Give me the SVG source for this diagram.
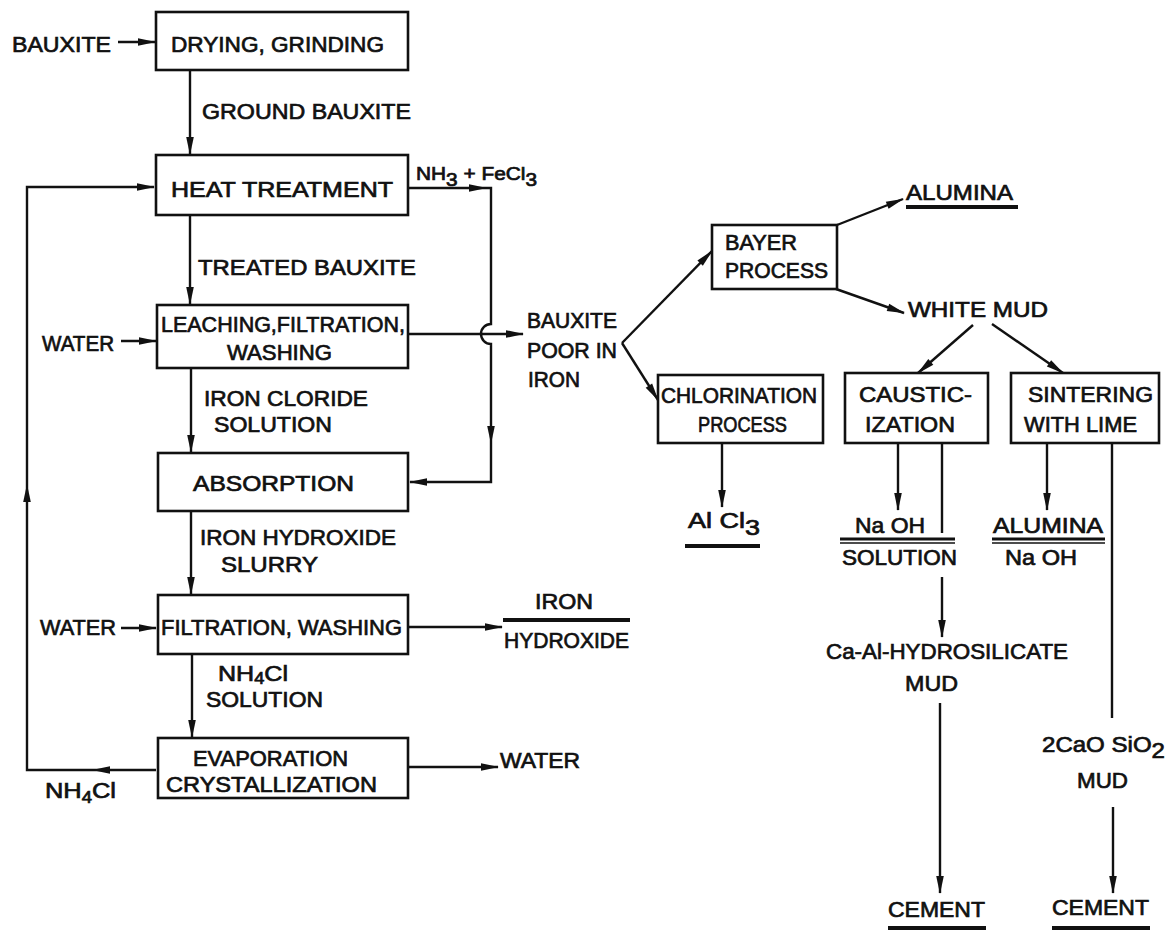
<svg xmlns="http://www.w3.org/2000/svg" xmlns:xlink="http://www.w3.org/1999/xlink" width="1172" height="931" viewBox="0 0 1172 931">
  <style>
    .box { fill: #fff; stroke: #111; stroke-width: 2.6; }
    .ln { fill: none; stroke: #111; stroke-width: 2.4; }
    .t { font-family: "Liberation Sans", Arial, sans-serif; font-size: 22px; fill: #111; stroke: #111; stroke-width: 0.7; }
    .s { font-size: 18px; }
    .sub { font-size: 16px; }
    .bar { stroke: #111; stroke-width: 4.2; }
    .thin { stroke: #111; stroke-width: 1.6; }
  </style>
  <defs>
    <marker id="arr" markerUnits="userSpaceOnUse" markerWidth="20" markerHeight="10" viewBox="-18 -5 20 10" refX="0" refY="0" orient="auto">
      <path d="M1,0 L-17,-3.8 L-17,3.8 Z" fill="#111"/>
    </marker>
    <path id="ah" d="M1,0 L-17,-3.8 L-17,3.8 Z" fill="#111"/>
  </defs>
  <rect width="1172" height="931" fill="#fff"/>

  <!-- flow lines -->
  <g id="connectors">
    <!-- main column -->
    <line class="ln" x1="118" y1="42" x2="155" y2="42" marker-end="url(#arr)"/>
    <line class="ln" x1="190" y1="70" x2="190" y2="154" marker-end="url(#arr)"/>
    <line class="ln" x1="190" y1="215" x2="190" y2="304" marker-end="url(#arr)"/>
    <line class="ln" x1="191" y1="368" x2="191" y2="452" marker-end="url(#arr)"/>
    <line class="ln" x1="191" y1="511" x2="191" y2="594" marker-end="url(#arr)"/>
    <line class="ln" x1="192" y1="654" x2="192" y2="737" marker-end="url(#arr)"/>
    <!-- water feeds -->
    <line class="ln" x1="121" y1="341" x2="156" y2="341" marker-end="url(#arr)"/>
    <line class="ln" x1="121" y1="628" x2="156" y2="628" marker-end="url(#arr)"/>
    <!-- NH4Cl recycle loop -->
    <polyline class="ln" points="156,770 27,770 27,187 154,187" marker-end="url(#arr)"/>
    <use xlink:href="#ah" transform="translate(93,770) rotate(180)"/>
    <use xlink:href="#ah" transform="translate(27,485) rotate(-90)"/>
    <!-- NH3 + FeCl3 to absorption, hopping over the leaching outlet -->
    <path class="ln" d="M408,188 H491 V324 A10,10 0 0 0 491,344 V482 H410" marker-end="url(#arr)"/>
    <use xlink:href="#ah" transform="translate(486,188)"/>
    <use xlink:href="#ah" transform="translate(491,443) rotate(90)"/>
    <!-- side products -->
    <line class="ln" x1="408" y1="334" x2="523" y2="334" marker-end="url(#arr)"/>
    <line class="ln" x1="408" y1="627" x2="502" y2="627" marker-end="url(#arr)"/>
    <line class="ln" x1="408" y1="767" x2="498" y2="767" marker-end="url(#arr)"/>
    <!-- bauxite poor in iron branches -->
    <line class="ln" x1="622" y1="343" x2="712" y2="251" marker-end="url(#arr)"/>
    <line class="ln" x1="622" y1="343" x2="658" y2="400" marker-end="url(#arr)"/>
    <line class="ln" x1="722" y1="443" x2="722" y2="507" marker-end="url(#arr)"/>
    <!-- Bayer outputs -->
    <line class="ln" x1="837" y1="225" x2="903" y2="199" marker-end="url(#arr)"/>
    <line class="ln" x1="836" y1="289" x2="904" y2="313" marker-end="url(#arr)"/>
    <!-- white mud treatment -->
    <line class="ln" x1="973" y1="325" x2="918" y2="373" marker-end="url(#arr)"/>
    <line class="ln" x1="992" y1="324" x2="1063" y2="373" marker-end="url(#arr)"/>
    <line class="ln" x1="898" y1="443" x2="898" y2="510" marker-end="url(#arr)"/>
    <line class="ln" x1="942" y1="443" x2="942" y2="533"/>
    <line class="ln" x1="942" y1="577" x2="942" y2="637" marker-end="url(#arr)"/>
    <line class="ln" x1="940" y1="703" x2="940" y2="893" marker-end="url(#arr)"/>
    <line class="ln" x1="1047" y1="443" x2="1047" y2="510" marker-end="url(#arr)"/>
    <line class="ln" x1="1112" y1="443" x2="1112" y2="718"/>
    <line class="ln" x1="1113" y1="807" x2="1113" y2="893" marker-end="url(#arr)"/>
  </g>

  <!-- process units -->
  <g id="drying">
    <rect class="box" x="156" y="12" width="252" height="58"/>
    <text class="t" x="171" y="52" textLength="213" lengthAdjust="spacingAndGlyphs">DRYING, GRINDING</text>
  </g>
  <g id="heat-treatment">
    <rect class="box" x="156" y="155" width="252" height="60"/>
    <text class="t" x="171" y="197" textLength="222" lengthAdjust="spacingAndGlyphs">HEAT TREATMENT</text>
  </g>
  <g id="leaching">
    <rect class="box" x="157" y="305" width="251" height="63"/>
    <text class="t" x="161" y="332" textLength="244" lengthAdjust="spacingAndGlyphs">LEACHING,FILTRATION,</text>
    <text class="t" x="227" y="360" textLength="105" lengthAdjust="spacingAndGlyphs">WASHING</text>
  </g>
  <g id="absorption">
    <rect class="box" x="158" y="453" width="250" height="58"/>
    <text class="t" x="193" y="491" textLength="161" lengthAdjust="spacingAndGlyphs">ABSORPTION</text>
  </g>
  <g id="filtration">
    <rect class="box" x="158" y="595" width="250" height="59"/>
    <text class="t" x="161" y="635" textLength="241" lengthAdjust="spacingAndGlyphs">FILTRATION, WASHING</text>
  </g>
  <g id="evaporation">
    <rect class="box" x="158" y="738" width="250" height="60"/>
    <text class="t" x="193" y="766" textLength="155" lengthAdjust="spacingAndGlyphs">EVAPORATION</text>
    <text class="t" x="166" y="792" textLength="211" lengthAdjust="spacingAndGlyphs">CRYSTALLIZATION</text>
  </g>
  <g id="bayer">
    <rect class="box" x="712" y="225" width="125" height="64"/>
    <text class="t" x="725" y="250" textLength="72" lengthAdjust="spacingAndGlyphs">BAYER</text>
    <text class="t" x="725" y="278" textLength="103" lengthAdjust="spacingAndGlyphs">PROCESS</text>
  </g>
  <g id="chlorination">
    <rect class="box" x="658" y="375" width="165" height="68"/>
    <text class="t" x="661" y="403" textLength="156" lengthAdjust="spacingAndGlyphs">CHLORINATION</text>
    <text class="t" x="698" y="432" textLength="89" lengthAdjust="spacingAndGlyphs">PROCESS</text>
  </g>
  <g id="causticization">
    <rect class="box" x="845" y="373" width="143" height="70"/>
    <text class="t" x="859" y="402" textLength="113" lengthAdjust="spacingAndGlyphs">CAUSTIC-</text>
    <text class="t" x="865" y="432" textLength="90" lengthAdjust="spacingAndGlyphs">IZATION</text>
  </g>
  <g id="sintering">
    <rect class="box" x="1011" y="373" width="148" height="70"/>
    <text class="t" x="1028" y="402" textLength="125" lengthAdjust="spacingAndGlyphs">SINTERING</text>
    <text class="t" x="1024" y="432" textLength="113" lengthAdjust="spacingAndGlyphs">WITH LIME</text>
  </g>

  <!-- feeds and stream labels -->
  <g id="labels">
    <text class="t" x="12" y="52" textLength="99" lengthAdjust="spacingAndGlyphs">BAUXITE</text>
    <text class="t" x="202" y="119" textLength="209" lengthAdjust="spacingAndGlyphs">GROUND BAUXITE</text>
    <text class="t s" x="416" y="180" textLength="121" lengthAdjust="spacingAndGlyphs">NH<tspan dy="6">3</tspan><tspan dy="-6"> + FeCl</tspan><tspan dy="6">3</tspan></text>
    <text class="t" x="198" y="275" textLength="218" lengthAdjust="spacingAndGlyphs">TREATED BAUXITE</text>
    <text class="t" x="42" y="351" textLength="72" lengthAdjust="spacingAndGlyphs">WATER</text>
    <text class="t" x="204" y="406" textLength="164" lengthAdjust="spacingAndGlyphs">IRON CLORIDE</text>
    <text class="t" x="214" y="432" textLength="118" lengthAdjust="spacingAndGlyphs">SOLUTION</text>
    <text class="t" x="200" y="545" textLength="196" lengthAdjust="spacingAndGlyphs">IRON HYDROXIDE</text>
    <text class="t" x="221" y="572" textLength="97" lengthAdjust="spacingAndGlyphs">SLURRY</text>
    <text class="t" x="40" y="635" textLength="76" lengthAdjust="spacingAndGlyphs">WATER</text>
    <text class="t" x="218" y="681" textLength="70" lengthAdjust="spacingAndGlyphs">NH<tspan class="sub" dy="3">4</tspan><tspan dy="-3">Cl</tspan></text>
    <text class="t" x="206" y="707" textLength="117" lengthAdjust="spacingAndGlyphs">SOLUTION</text>
    <text class="t" x="45" y="798" textLength="71" lengthAdjust="spacingAndGlyphs">NH<tspan class="sub" dy="5">4</tspan><tspan dy="-5">Cl</tspan></text>
    <text class="t" x="527" y="328" textLength="90" lengthAdjust="spacingAndGlyphs">BAUXITE</text>
    <text class="t" x="527" y="358" textLength="90" lengthAdjust="spacingAndGlyphs">POOR IN</text>
    <text class="t" x="528" y="387" textLength="52" lengthAdjust="spacingAndGlyphs">IRON</text>
    <text class="t" x="908" y="317" textLength="140" lengthAdjust="spacingAndGlyphs">WHITE MUD</text>
    <text class="t" x="826" y="659" textLength="242" lengthAdjust="spacingAndGlyphs">Ca-Al-HYDROSILICATE</text>
    <text class="t" x="905" y="691" textLength="53" lengthAdjust="spacingAndGlyphs">MUD</text>
    <text class="t" x="1042" y="752" textLength="123" lengthAdjust="spacingAndGlyphs">2CaO SiO<tspan dy="6">2</tspan></text>
    <text class="t" x="1077" y="788" textLength="51" lengthAdjust="spacingAndGlyphs">MUD</text>
  </g>

  <!-- products -->
  <g id="water-out">
    <text class="t" x="500" y="768" textLength="80" lengthAdjust="spacingAndGlyphs">WATER</text>
  </g>
  <g id="iron-hydroxide">
    <text class="t" x="535" y="609" textLength="58" lengthAdjust="spacingAndGlyphs">IRON</text>
    <line class="bar" x1="503" y1="620" x2="630" y2="620"/>
    <text class="t" x="504" y="648" textLength="125" lengthAdjust="spacingAndGlyphs">HYDROXIDE</text>
  </g>
  <g id="alumina-bayer">
    <text class="t" x="906" y="200" textLength="107" lengthAdjust="spacingAndGlyphs">ALUMINA</text>
    <line class="bar" x1="906" y1="207" x2="1018" y2="207"/>
  </g>
  <g id="alcl3">
    <text class="t" x="688" y="528" textLength="72" lengthAdjust="spacingAndGlyphs">Al Cl<tspan dy="7">3</tspan></text>
    <line class="bar" x1="685" y1="546" x2="760" y2="546"/>
  </g>
  <g id="naoh-solution">
    <text class="t" x="855" y="533" textLength="70" lengthAdjust="spacingAndGlyphs">Na OH</text>
    <line class="bar" x1="840" y1="539" x2="955" y2="539" style="stroke-width:3"/>
    <line class="thin" x1="840" y1="543" x2="955" y2="543"/>
    <text class="t" x="842" y="565" textLength="115" lengthAdjust="spacingAndGlyphs">SOLUTION</text>
  </g>
  <g id="alumina-naoh">
    <text class="t" x="993" y="533" textLength="110" lengthAdjust="spacingAndGlyphs">ALUMINA</text>
    <line class="bar" x1="992" y1="539" x2="1105" y2="539" style="stroke-width:3"/>
    <line class="thin" x1="992" y1="543" x2="1105" y2="543"/>
    <text class="t" x="1005" y="565" textLength="72" lengthAdjust="spacingAndGlyphs">Na OH</text>
  </g>
  <g id="cement-1">
    <text class="t" x="888" y="917" textLength="97" lengthAdjust="spacingAndGlyphs">CEMENT</text>
    <line class="bar" x1="888" y1="928" x2="986" y2="928"/>
  </g>
  <g id="cement-2">
    <text class="t" x="1052" y="915" textLength="97" lengthAdjust="spacingAndGlyphs">CEMENT</text>
    <line class="bar" x1="1052" y1="928" x2="1150" y2="928"/>
  </g>
</svg>
